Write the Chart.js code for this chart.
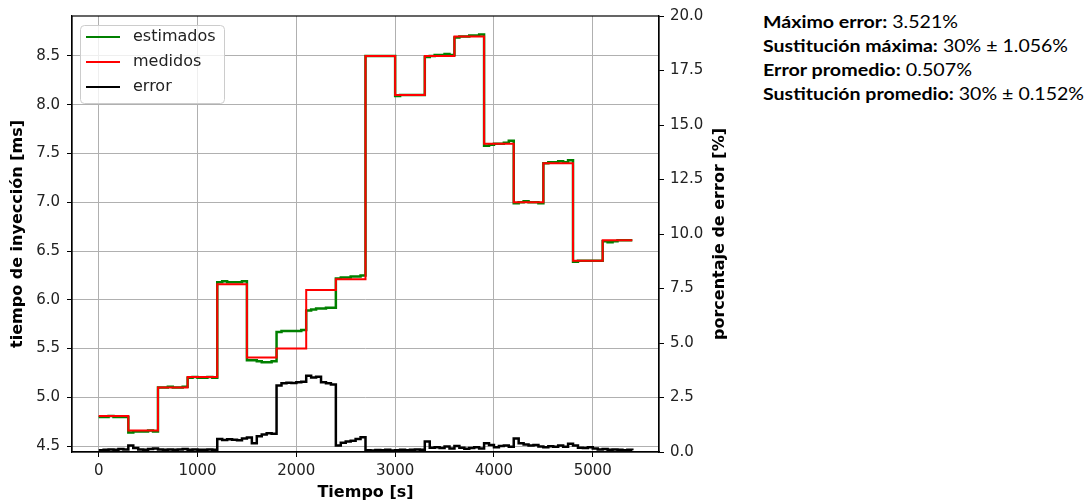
<!DOCTYPE html>
<html>
<head>
<meta charset="utf-8">
<script src="https://cdn.jsdelivr.net/npm/chart.js@4/dist/chart.umd.min.js"></script>
<style>
  body { margin: 0; background: #fff; width: 1090px; height: 504px; position: relative; overflow: hidden; }
  #grafica { position: absolute; left: 0; top: 0; }
  #notas { position: absolute; left: 763px; top: 10px; font-family: Lato, "Open Sans", sans-serif; font-size: 17px; line-height: 24px; color: #000; white-space: nowrap; }
  #notas div { width: max-content; transform-origin: left center; }
</style>
</head>
<body>
<canvas id="grafica" width="740" height="504"></canvas>
<div id="notas">
  <div><b>Máximo error:</b> 3.521%</div>
  <div><b>Sustitución máxima:</b> 30% ± 1.056%</div>
  <div><b>Error promedio:</b> 0.507%</div>
  <div><b>Sustitución promedio:</b> 30% ± 0.152%</div>
</div>
<script>
// tiempos de muestreo [s]
const tiempo = [0,50,100,150,200,250,300,350,400,450,500,550,600,650,700,750,800,850,900,950,
  1000,1050,1100,1150,1200,1250,1300,1350,1400,1450,1500,1550,1600,1650,1700,1750,1800,1850,1900,1950,
  2000,2050,2100,2150,2200,2250,2300,2350,2400,2450,2500,2550,2600,2650,2700,2750,2800,2850,2900,2950,
  3000,3050,3100,3150,3200,3250,3300,3350,3400,3450,3500,3550,3600,3650,3700,3750,3800,3850,3900,3950,
  4000,4050,4100,4150,4200,4250,4300,4350,4400,4450,4500,4550,4600,4650,4700,4750,4800,4850,4900,4950,
  5000,5050,5100,5150,5200,5250,5300,5350,5400];

// escalones de los valores medidos
const tiempoEscalones = [0,300,600,900,1200,1500,1800,2100,2400,2700,3000,3300,3600,3900,4200,4500,4800,5100,5400];
const medidos = [4.81,4.66,5.10,5.21,6.16,5.41,5.50,6.10,6.21,8.50,8.10,8.50,8.70,7.60,7.00,7.40,6.40,6.61,6.61];

const estimados = [
  4.80,4.80,4.81,4.80,4.80,4.80, 4.64,4.65,4.65,4.65,4.66,4.65,
  5.10,5.10,5.11,5.10,5.10,5.11, 5.20,5.21,5.20,5.20,5.21,5.20,
  6.18,6.19,6.18,6.18,6.18,6.19, 5.38,5.38,5.37,5.36,5.36,5.37,
  5.67,5.68,5.68,5.68,5.68,5.69, 5.89,5.90,5.91,5.91,5.92,5.92,
  6.22,6.23,6.23,6.24,6.24,6.25, 8.50,8.50,8.50,8.50,8.50,8.50,
  8.09,8.10,8.10,8.10,8.10,8.10, 8.49,8.50,8.51,8.51,8.52,8.51,
  8.69,8.70,8.70,8.71,8.71,8.72, 7.58,7.59,7.60,7.60,7.61,7.63,
  6.99,7.00,7.01,7.00,7.00,6.99, 7.40,7.41,7.41,7.42,7.41,7.43,
  6.39,6.40,6.40,6.40,6.40,6.40, 6.60,6.59,6.60,6.61,6.61,6.61,
  6.61];

// porcentaje de error [%]
const error = [
  0.08,0.10,0.12,0.10,0.14,0.12, 0.30,0.18,0.12,0.10,0.14,0.16,
  0.12,0.10,0.12,0.10,0.12,0.14, 0.10,0.12,0.10,0.10,0.12,0.10,
  0.60,0.55,0.58,0.56,0.54,0.62, 0.66,0.40,0.72,0.80,0.86,0.84,
  3.05,3.15,3.18,3.16,3.20,3.22, 3.50,3.42,3.45,3.20,3.15,3.10,
  0.30,0.42,0.48,0.52,0.60,0.68, 0.08,0.07,0.09,0.08,0.10,0.07,
  0.08,0.10,0.08,0.10,0.12,0.10, 0.48,0.20,0.22,0.18,0.25,0.16,
  0.28,0.20,0.15,0.18,0.22,0.16, 0.40,0.32,0.22,0.28,0.30,0.24,
  0.62,0.40,0.34,0.30,0.32,0.25, 0.22,0.26,0.24,0.30,0.24,0.38,
  0.30,0.20,0.18,0.22,0.16,0.12, 0.14,0.10,0.12,0.10,0.08,0.10,
  0.08];

const ticksTiempo = [0,1000,2000,3000,4000,5000];
const ticksMs = [4.5,5.0,5.5,6.0,6.5,7.0,7.5,8.0,8.5];
const ticksError = [0,2.5,5,7.5,10,12.5,15,17.5,20];

const fuente = 'DejaVu Sans';
const colorTexto = '#222';

const marco = {
  id: 'marco',
  afterDatasetsDraw(chart) {
    const { ctx, chartArea: a } = chart;
    ctx.save();
    // bordes
    ctx.strokeStyle = '#000';
    ctx.lineWidth = 1.2;
    ctx.strokeRect(a.left, a.top, a.right - a.left, a.bottom - a.top);

    // leyenda dentro del gráfico
    ctx.beginPath();
    ctx.roundRect(80.5, 25.5, 144, 78, 4);
    ctx.fillStyle = 'rgba(255,255,255,0.8)';
    ctx.fill();
    ctx.strokeStyle = '#cccccc';
    ctx.lineWidth = 1;
    ctx.stroke();
    ctx.font = '16px ' + fuente;
    ctx.textBaseline = 'middle';
    chart.data.datasets.forEach((ds, i) => {
      const y = 37 + i * 25;
      ctx.strokeStyle = ds.borderColor;
      ctx.lineWidth = 2;
      ctx.beginPath();
      ctx.moveTo(86, y);
      ctx.lineTo(120, y);
      ctx.stroke();
      ctx.fillStyle = colorTexto;
      ctx.fillText(ds.label, 133, y);
    });

    // título del eje derecho (de abajo hacia arriba)
    ctx.translate(720, (a.top + a.bottom) / 2);
    ctx.rotate(-Math.PI / 2);
    ctx.textAlign = 'center';
    ctx.fillStyle = '#000';
    ctx.font = 'bold 16px ' + fuente;
    ctx.fillText('porcentaje de error [%]', 0, 0);
    ctx.restore();
  }
};

new Chart(document.getElementById('grafica'), {
  type: 'line',
  data: {
    datasets: [
      {
        label: 'estimados',
        data: tiempo.map((t, i) => ({ x: t, y: estimados[i] })),
        borderColor: '#008000',
        borderWidth: 2.5,
        stepped: true,
        yAxisID: 'y',
        order: 3
      },
      {
        label: 'medidos',
        data: tiempoEscalones.map((t, i) => ({ x: t, y: medidos[i] })),
        borderColor: '#ff0000',
        borderWidth: 2,
        stepped: true,
        yAxisID: 'y',
        order: 2
      },
      {
        label: 'error',
        data: tiempo.map((t, i) => ({ x: t, y: error[i] })),
        borderColor: '#000000',
        borderWidth: 2.5,
        stepped: true,
        yAxisID: 'y2',
        order: 1
      }
    ]
  },
  options: {
    responsive: false,
    animation: false,
    parsing: false,
    elements: { point: { radius: 0 } },
    layout: { padding: { top: 16, left: 0, right: 0, bottom: 0 } },
    plugins: { legend: { display: false }, tooltip: { enabled: false } },
    scales: {
      x: {
        type: 'linear',
        min: -270,
        max: 5670,
        afterBuildTicks: s => { s.ticks = ticksTiempo.map(v => ({ value: v })); },
        afterFit: s => { s.height = 52; },
        ticks: { font: { family: fuente, size: 15 }, color: colorTexto, padding: 5, maxRotation: 0, callback: v => String(v) },
        grid: { color: '#b0b0b0', lineWidth: 1, tickColor: '#000', tickLength: 5 },
        border: { color: '#000', width: 1.2 },
        title: { display: true, text: 'Tiempo [s]', color: '#000', font: { family: fuente, size: 16, weight: 'bold' }, padding: { top: 0, bottom: 2 } }
      },
      y: {
        position: 'left',
        min: 4.44,
        max: 8.91,
        afterBuildTicks: s => { s.ticks = ticksMs.map(v => ({ value: v })); },
        afterFit: s => { s.width = 72; },
        ticks: { font: { family: fuente, size: 15 }, color: colorTexto, padding: 7, callback: v => v.toFixed(1) },
        grid: { color: '#b0b0b0', lineWidth: 1, tickColor: '#000', tickLength: 5 },
        border: { color: '#000', width: 1.2 },
        title: { display: true, text: 'tiempo de inyección [ms]', color: '#000', font: { family: fuente, size: 16, weight: 'bold' }, padding: { top: 8, bottom: 0 } }
      },
      y2: {
        position: 'right',
        min: 0,
        max: 20,
        afterBuildTicks: s => { s.ticks = ticksError.map(v => ({ value: v })); },
        afterFit: s => { s.width = 81; },
        ticks: { font: { family: fuente, size: 15 }, color: colorTexto, padding: 6, callback: v => v.toFixed(1) },
        grid: { drawOnChartArea: false, tickColor: '#000', tickLength: 5 },
        border: { color: '#000', width: 1.2 }
      }
    }
  },
  plugins: [marco]
});

// ajustar el ancho de cada línea de notas al de la imagen original
const anchoNotas = [195, 305, 209, 321];
document.querySelectorAll('#notas div').forEach((d, i) => {
  const w = d.getBoundingClientRect().width;
  d.style.transform = 'scaleX(' + (anchoNotas[i] / w) + ')';
});
</script>
</body>
</html>
